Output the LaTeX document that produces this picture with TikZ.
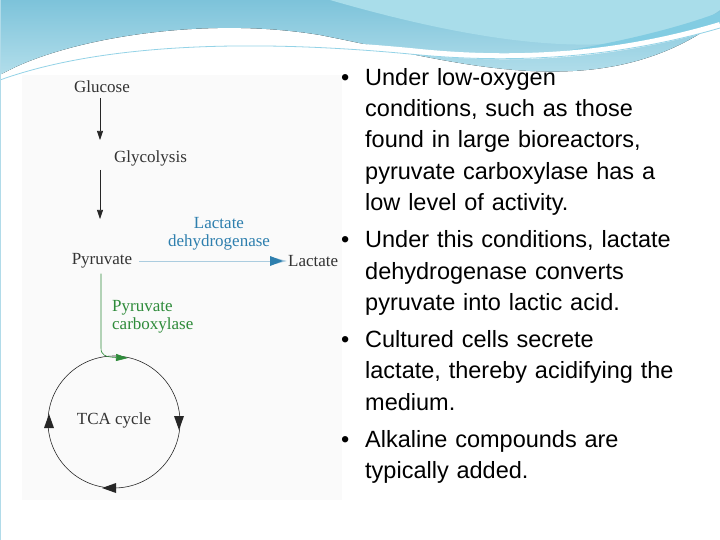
\documentclass[tikz,border=0pt]{standalone}
\usepackage{fontspec}
\setmainfont{Liberation Sans}
\newfontfamily\dia{Liberation Serif}
\usetikzlibrary{arrows.meta}
\definecolor{skyA}{HTML}{7DC3DA}
\definecolor{skyB}{HTML}{A9DDEA}
\definecolor{skyC}{HTML}{4DB6D6}
\definecolor{lacblue}{HTML}{2E7FAE}
\definecolor{gr}{HTML}{2E8B3A}
\begin{document}
\begin{tikzpicture}[x=1pt,y=-1pt,
  lbl/.style={font=\dia\fontsize{17}{18}\selectfont,text=black!80,inner sep=1pt},
  blt/.style={font=\fontsize{23.5}{31.3}\selectfont,anchor=north west,align=left,text width=370pt,inner sep=0pt},
  arr/.style={-{Triangle[length=9pt,width=6pt]},black!85,line width=0.6pt}]
\useasboundingbox (0,0) rectangle (720,540);
\fill[white] (0,0) rectangle (720,540);
% banner
\fill[top color=skyA,bottom color=skyB!60] (0,0) -- (720,0) -- (720,20) .. controls (600,110) and (450,60) .. (320,35) .. controls (200,15) and (60,40) .. (0,75) -- cycle;
\fill[skyB] (330,0) -- (720,0) -- (720,10) .. controls (650,60) and (520,55) .. (330,0) -- cycle;
\fill[skyC!70] (540,55) .. controls (640,40) and (700,20) .. (720,12) -- (720,28) .. controls (680,40) and (620,55) .. (540,55) -- cycle;
\draw[white,line width=6pt] (0,78) .. controls (100,40) and (250,35) .. (420,52) .. controls (520,62) and (620,55) .. (720,25);
\draw[skyC!60,line width=0.8pt] (0,80) .. controls (100,44) and (250,38) .. (420,55) .. controls (520,64) and (620,57) .. (720,28);
\draw[skyA!60,line width=1pt] (0,0) rectangle (720,540);
% diagram panel
\fill[black!2] (22,75) rectangle (342,500);
\node[lbl] (glu) at (102,87) {Glucose};
\node[lbl,anchor=west] (gly) at (113,158) {Glycolysis};
\node[lbl] (pyr) at (102,261) {Pyruvate};
\node[lbl,anchor=west] (lac) at (287,261) {Lactate};
\node[lbl,text=lacblue,align=center] (ldh) at (219,234) {Lactate\\dehydrogenase};
\node[lbl,text=gr,anchor=west,align=left] (pc) at (111,317) {Pyruvate\\carboxylase};
\node[lbl] (tca) at (114,420) {TCA cycle};
\coordinate (a1) at (100,98); \coordinate (a2) at (100,140);
\coordinate (b1) at (100,170); \coordinate (b2) at (100,219);
\draw[arr] (a1) -- (a2);
\draw[arr] (b1) -- (b2);
\draw[-{Triangle[length=12pt,width=6pt]},lacblue!40,line width=0.8pt] (pyr.east)++(6,0) -- (lac.west);
\fill[lacblue] (270,256) -- (283,261) -- (270,266) -- cycle;
\coordinate (cc) at (114,422);
\draw[black!85,line width=0.6pt] (cc) circle (66);
\draw[gr,line width=0.6pt,-{Triangle[length=12pt,width=7pt]}] (pyr.south) ++(-1,4) -- (101,348) .. controls (101,355) and (105,357) .. (128,358);
\fill[black!85] (179,422) ++(-5,-6) -- ++(10,0) -- ++(-5,14) -- cycle;
\fill[black!85] (49,422) ++(-5,6) -- ++(10,0) -- ++(-5,-14) -- cycle;
\fill[black!85] (110,488) ++(6,-5) -- ++(0,10) -- ++(-14,-5) -- cycle;
% bullets
\node[blt] (t) at (341,68) {%
\makebox[24pt][l]{•}Under low-oxygen\\\hspace*{24pt}conditions, such as those\\\hspace*{24pt}found in large bioreactors,\\\hspace*{24pt}pyruvate carboxylase has a\\\hspace*{24pt}low level of activity.\\[6pt]
\makebox[24pt][l]{•}Under this conditions, lactate\\\hspace*{24pt}dehydrogenase converts\\\hspace*{24pt}pyruvate into lactic acid.\\[6pt]
\makebox[24pt][l]{•}Cultured cells secrete\\\hspace*{24pt}lactate, thereby acidifying the\\\hspace*{24pt}medium.\\[6pt]
\makebox[24pt][l]{•}Alkaline compounds are\\\hspace*{24pt}typically added.};
\end{tikzpicture}
\end{document}
